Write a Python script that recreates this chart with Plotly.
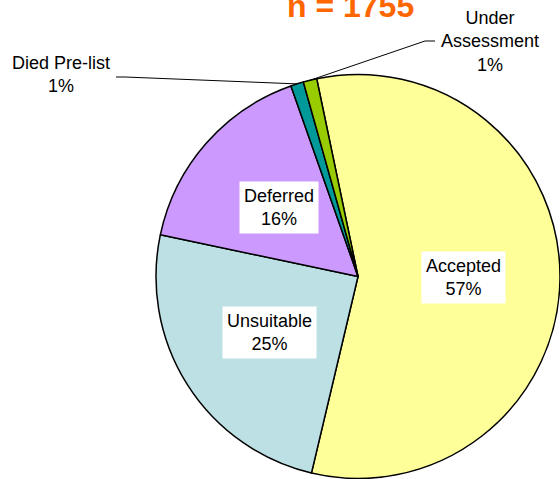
import math
import plotly.graph_objects as go

# ---- data ----
labels = ["Accepted", "Unsuitable", "Deferred", "Died Pre-list", "Under Assessment"]
counts = [1000, 432, 286, 18, 19]
percent_labels = ["57%", "25%", "16%", "1%", "1%"]
title_text = "n = 1755"

# ---- style ----
colors = ["#FFFF99", "#BDE0E4", "#CC99FF", "#009999", "#99CC00"]
W, H = 560, 479
CX, CY, R = 358, 276.5, 202   # pie centre / radius in pixels
ROT = -11.8                    # start angle of first slice (deg, clockwise from 12 o'clock)
FONT = "Liberation Sans, Arial, sans-serif"


def px(x):
    return x / W


def py(y):
    return 1 - y / H


total = sum(counts)
mid_angles = []
cum = 0
for v in counts:
    mid_angles.append(ROT + 360 * (cum + v / 2) / total)
    cum += v


def edge_point(angle_deg, k=1.0):
    a = math.radians(angle_deg)
    return CX + k * R * math.sin(a), CY - k * R * math.cos(a)


fig = go.Figure(
    go.Pie(
        labels=labels,
        values=counts,
        sort=False,
        direction="clockwise",
        rotation=ROT,
        textinfo="none",
        marker=dict(colors=colors, line=dict(color="black", width=1.5)),
        domain=dict(x=[px(CX - R), min(1, px(CX + R))], y=[max(0, py(CY + R)), py(CY - R)]),
        showlegend=False,
    )
)

annotations = []
# inside labels with white boxes
for i in range(3):
    x, y = edge_point(mid_angles[i], 0.52)
    annotations.append(dict(
        x=px(x), y=py(y), xref="paper", yref="paper",
        text=f"{labels[i]}<br>{percent_labels[i]}",
        showarrow=False, bgcolor="white", borderpad=4,
        font=dict(family=FONT, size=18, color="black"),
        xanchor="center", yanchor="middle",
    ))

# outside labels
annotations.append(dict(
    x=px(61), y=py(75), xref="paper", yref="paper",
    text=f"Died Pre-list<br>{percent_labels[3]}",
    showarrow=False, font=dict(family=FONT, size=18, color="black"),
    xanchor="center", yanchor="middle",
))
annotations.append(dict(
    x=px(490), y=py(42), xref="paper", yref="paper",
    text=f"Under<br>Assessment<br>{percent_labels[4]}",
    showarrow=False, font=dict(family=FONT, size=18, color="black"),
    xanchor="center", yanchor="middle",
))

# title
annotations.append(dict(
    x=px(350), y=py(6), xref="paper", yref="paper",
    text=f"<b>{title_text}</b>", showarrow=False,
    font=dict(family=FONT, size=32, color="#FF6600"),
    xanchor="center", yanchor="middle",
))

# leader lines
ex3, ey3 = edge_point(mid_angles[3])
ex4, ey4 = edge_point(mid_angles[4])
shapes = [
    dict(type="path", xref="paper", yref="paper",
         path=f"M {px(116)} {py(77)} L {px(125)} {py(77)} L {px(ex3)} {py(ey3)}",
         line=dict(color="black", width=1)),
    dict(type="path", xref="paper", yref="paper",
         path=f"M {px(435)} {py(41)} L {px(425)} {py(41)} L {px(ex4)} {py(ey4)}",
         line=dict(color="black", width=1)),
]

fig.update_layout(
    width=W, height=H,
    margin=dict(l=0, r=0, t=0, b=0),
    paper_bgcolor="white", plot_bgcolor="white",
    annotations=annotations, shapes=shapes,
)

fig.write_html(
    "out.html",
    config={"displayModeBar": False},
    post_script="document.body.style.margin='0';document.body.style.overflow='hidden';",
)
